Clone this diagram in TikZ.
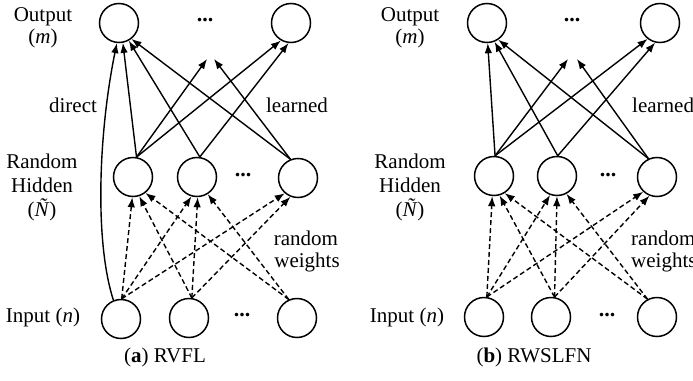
\documentclass[tikz,border=0pt]{standalone}
\usepackage{fontspec}
\setmainfont{Liberation Serif}
\usetikzlibrary{arrows.meta}
\begin{document}
\begin{tikzpicture}[x=1pt,y=-1pt,
  neuron/.style={circle,draw,line width=1.5pt,minimum size=39pt,inner sep=0pt},
  dotsnode/.style={inner sep=0pt,font=\fontsize{22}{24}\selectfont\bfseries},
  lbl/.style={anchor=base,inner sep=0pt,font=\fontsize{21}{24}\selectfont},
  lblw/.style={anchor=base west,inner sep=0pt,font=\fontsize{21}{24}\selectfont},
  learn/.style={line width=1.4pt,-{Latex[length=10pt,width=7.5pt]}},
  rnd/.style={line width=1.4pt,dash pattern=on 5pt off 3pt,-{Latex[length=10pt,width=7.5pt]}}]
\clip (0,0) rectangle (693,380);
\fill[white] (0,0) rectangle (693,380);
% ---------------- (a) RVFL ----------------
\node[neuron] (ao1) at (119,23) {};
\node[neuron] (ao2) at (291,23) {};
\node[dotsnode] (aod) at (205,20) {...};
\node[neuron] (ah1) at (133,177) {};
\node[neuron] (ah2) at (197,177) {};
\node[neuron] (ah3) at (298,178) {};
\node[dotsnode] (ahd) at (243,175) {...};
\node[neuron] (ai1) at (121,319) {};
\node[neuron] (ai2) at (189,318) {};
\node[neuron] (ai3) at (297,318) {};
\node[dotsnode] (aid) at (242,315) {...};
\coordinate (aoda) at (207,59);
\coordinate (aodb) at (214,59);
% labels
\node[lbl] (aoutl) at (43,21.5) {Output};
\node[lbl] (aoutm) at (43,43) {(\textit{m})};
\node[lbl] (adirect) at (73,112.5) {direct};
\node[lbl] (alearned) at (297,112.5) {learned};
\node[lbl] (arandl) at (42,168) {Random};
\node[lbl] (ahidl) at (42,192) {Hidden};
\node[lbl] (anl) at (42,216.5) {(\textit{Ñ})};
\node[lbl] (arandw) at (306,245) {random};
\node[lbl] (aweights) at (307,267) {weights};
\node[lbl] (ainl) at (43,322) {Input (\textit{n})};
\node[lbl] (acap) at (165,362) {(\textbf{a}) RVFL};
% learned connections
\draw[learn] (ai1.112) .. controls (94,240) and (99,130) .. (ao1.-96);
\draw[learn] (ah1.80) -- (ao1.-79);
\draw[learn] (ah2.82) -- (ao1.-61);
\draw[learn] (ah3.112) -- (ao1.-52);
\draw[learn] (ah1.80) -- (aoda);
\draw[learn] (ah3.112) -- (aodb);
\draw[learn] (ah1.80) -- (ao2.-120);
\draw[learn] (ah2.82) -- (ao2.-97);
% random connections
\draw[rnd] (ai1.88) -- (ah1.-92);
\draw[rnd] (ai2.82) -- (ah1.-72);
\draw[rnd] (ai3.114) -- (ah1.-52);
\draw[rnd] (ai1.88) -- (ah2.-106);
\draw[rnd] (ai2.82) -- (ah2.-88);
\draw[rnd] (ai3.114) -- (ah2.-58);
\draw[rnd] (ai1.88) -- (ah3.-131);
\draw[rnd] (ai2.82) -- (ah3.-112);
% ---------------- (b) RWSLFN ----------------
\node[neuron] (bo1) at (487,23) {};
\node[neuron] (bo2) at (660,23) {};
\node[dotsnode] (bod) at (572,20) {...};
\node[neuron] (bh1) at (494,176) {};
\node[neuron] (bh2) at (557,176) {};
\node[neuron] (bh3) at (657,177) {};
\node[dotsnode] (bhd) at (608,175) {...};
\node[neuron] (bi1) at (484,317) {};
\node[neuron] (bi2) at (551,317) {};
\node[neuron] (bi3) at (657,317) {};
\node[dotsnode] (bid) at (607,315) {...};
\coordinate (boda) at (568,59);
\coordinate (bodb) at (577,59);
\node[lbl] (boutl) at (410,21.5) {Output};
\node[lbl] (boutm) at (410,43) {(\textit{m})};
\node[lblw] (blearned) at (632,112.5) {learned};
\node[lbl] (brandl) at (410,168) {Random};
\node[lbl] (bhidl) at (410,192) {Hidden};
\node[lbl] (bnl) at (410,216.5) {(\textit{Ñ})};
\node[lblw] (brandw) at (631,245) {random};
\node[lblw] (bweights) at (631,267) {weights};
\node[lbl] (binl) at (407,322) {Input (\textit{n})};
\node[lbl] (bcap) at (534,362) {(\textbf{b}) RWSLFN};
\draw[learn] (bh1.87) -- (bo1.-88);
\draw[learn] (bh2.88) -- (bo1.-68);
\draw[learn] (bh3.115) -- (bo1.-56);
\draw[learn] (bh1.87) -- (boda);
\draw[learn] (bh3.115) -- (bodb);
\draw[learn] (bh1.87) -- (bo2.-128);
\draw[learn] (bh2.88) -- (bo2.-104);
\draw[rnd] (bi1.82) -- (bh1.-95);
\draw[rnd] (bi2.80) -- (bh1.-74);
\draw[rnd] (bi3.118) -- (bh1.-58);
\draw[rnd] (bi1.82) -- (bh2.-110);
\draw[rnd] (bi2.80) -- (bh2.-90);
\draw[rnd] (bi3.118) -- (bh2.-62);
\draw[rnd] (bi1.82) -- (bh3.-133);
\draw[rnd] (bi2.80) -- (bh3.-112);
\end{tikzpicture}
\end{document}
